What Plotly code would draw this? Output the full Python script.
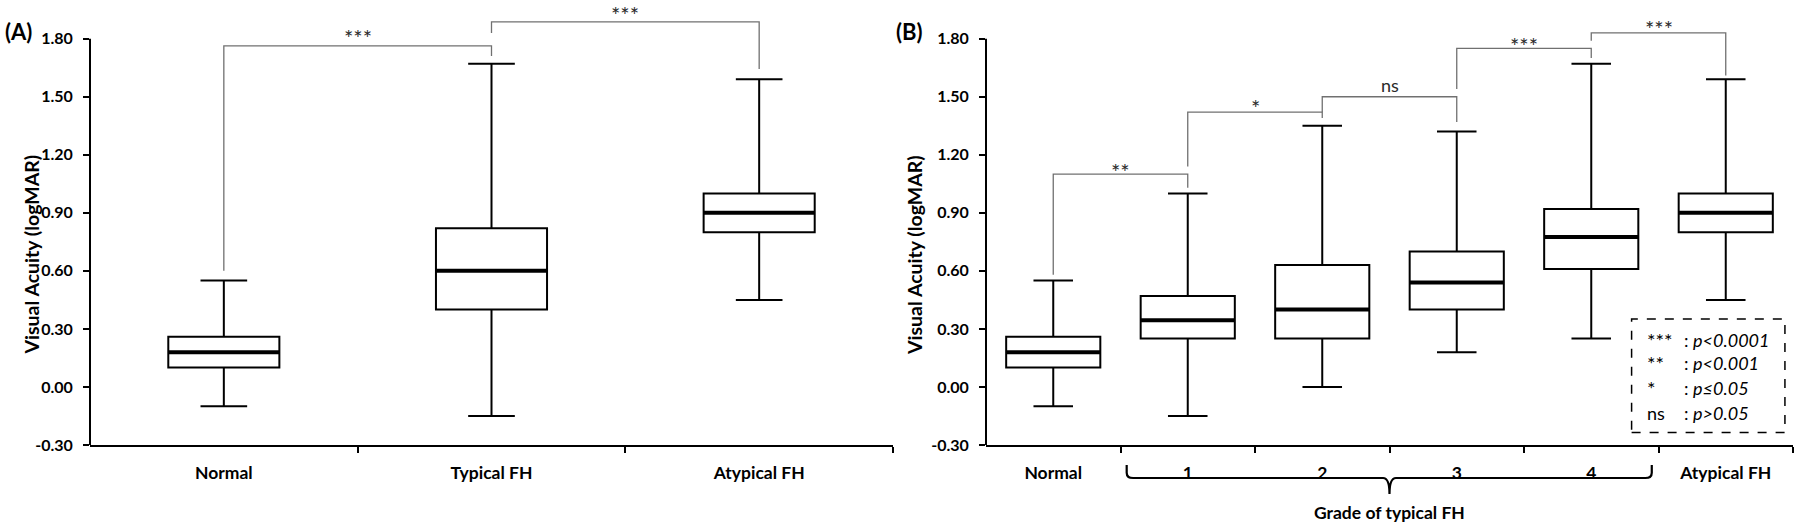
import plotly.graph_objects as go

# ---------------- data ----------------
cats_a = ["Normal", "Typical FH", "Atypical FH"]
low_a = [-0.10, -0.15, 0.45]
q1_a = [0.10, 0.40, 0.80]
med_a = [0.18, 0.60, 0.90]
q3_a = [0.26, 0.82, 1.00]
high_a = [0.55, 1.67, 1.59]

cats_b = ["Normal", "1", "2", "3", "4", "Atypical FH"]
low_b = [-0.10, -0.15, 0.00, 0.18, 0.25, 0.45]
q1_b = [0.10, 0.25, 0.25, 0.40, 0.61, 0.80]
med_b = [0.18, 0.345, 0.40, 0.54, 0.775, 0.90]
q3_b = [0.26, 0.47, 0.63, 0.70, 0.92, 1.00]
high_b = [0.55, 1.00, 1.35, 1.32, 1.67, 1.59]

yticks = [-0.30, 0.00, 0.30, 0.60, 0.90, 1.20, 1.50, 1.80]
ytick_text = ["-0.30", "0.00", "0.30", "0.60", "0.90", "1.20", "1.50", "1.80"]

# significance brackets: (from, to, left foot, bar, right foot, label, label y)
brackets_a = [
    (0, 1, 0.60, 1.763, 1.71, "***", 1.83),
    (1, 2, 1.83, 1.887, 1.644, "***", 1.95),
]
brackets_b = [
    (0, 1, 0.58, 1.10, 1.03, "**", 1.14),
    (1, 2, 1.14, 1.42, 1.39, "*", 1.47),
    (2, 3, 1.42, 1.50, 1.37, "ns", 1.56),
    (3, 4, 1.54, 1.75, 1.70, "***", 1.79),
    (4, 5, 1.79, 1.83, 1.61, "***", 1.88),
]

legend_syms = ["***", "**", "*", "ns"]
legend_text = ["p&lt;0.0001", "p&lt;0.001", "p≤0.05", "p&gt;0.05"]
legend_y = [0.243, 0.124, -0.005, -0.134]

# ---------------- style ----------------
FONT = "Lato"
W, H = 1800, 524
box_w_a, box_w_b = 0.415, 0.70
whisk = 0.42
YR = [-0.30, 2.00]
px_per_unit = 445 / (YR[1] - YR[0])

fig = go.Figure()


def add_panel(cats, low, q1, med, q3, high, bw, xa, ya):
    xs = list(range(len(cats)))
    fig.add_trace(go.Box(
        x=xs, q1=q1, median=med, q3=q3, lowerfence=low, upperfence=high,
        width=bw, whiskerwidth=whisk, boxpoints=False,
        fillcolor="white", line=dict(color="black", width=2),
        xaxis=xa, yaxis=ya, hoverinfo="skip", showlegend=False))
    # thick median lines
    for i, m in zip(xs, med):
        fig.add_shape(type="line", xref=xa, yref=ya,
                      x0=i - bw / 2, x1=i + bw / 2, y0=m, y1=m,
                      line=dict(color="black", width=4))
    # y axis line only up to top tick
    fig.add_shape(type="line", xref=xa + " domain", yref=ya,
                  x0=0, x1=0, y0=yticks[0], y1=yticks[-1],
                  line=dict(color="black", width=2))


def add_brackets(brs, xa, ya):
    for (i, j, yl, yt, yr, lab, ly) in brs:
        fig.add_shape(type="path", xref=xa, yref=ya,
                      path=f"M {i},{yl} L {i},{yt} L {j},{yt} L {j},{yr}",
                      line=dict(color="#707070", width=1.3))
        star = "*" in lab
        shift = (-5 / px_per_unit) if star else 0
        fig.add_annotation(x=(i + j) / 2, y=ly + shift, xref=xa, yref=ya,
                           text=lab, showarrow=False, yanchor="middle",
                           font=dict(family=FONT, size=22 if star else 18,
                                     color="#2a2a2a"))


add_panel(cats_a, low_a, q1_a, med_a, q3_a, high_a, box_w_a, "x", "y")
add_panel(cats_b, low_b, q1_b, med_b, q3_b, high_b, box_w_b, "x2", "y2")
add_brackets(brackets_a, "x", "y")
add_brackets(brackets_b, "x2", "y2")

xtickfont = dict(family=FONT, size=17.5, color="black", weight="bold")
ytickfont = dict(family=FONT, size=16, color="black", weight="bold")


def xaxis_cfg(cats, domain, anchor):
    n = len(cats)
    return dict(domain=domain, range=[-0.5, n - 0.5], anchor=anchor,
                showline=True, linecolor="black", linewidth=2,
                showgrid=False, zeroline=False,
                tickvals=list(range(n)), ticktext=cats, ticks="",
                ticklabelstandoff=11, tickfont=xtickfont,
                minor=dict(tickvals=[k + 0.5 for k in range(n)], ticks="outside",
                           ticklen=6, tickwidth=2, tickcolor="black"),
                fixedrange=True)


def yaxis_cfg(anchor):
    return dict(domain=[0, 1], range=YR, anchor=anchor, showline=False,
                showgrid=False, zeroline=False, tickvals=yticks,
                ticktext=ytick_text, ticks="outside", ticklen=6, tickwidth=2,
                tickcolor="black", ticklabelstandoff=7, tickfont=ytickfont,
                fixedrange=True)


fig.update_layout(
    width=W, height=H, margin=dict(l=0, r=0, t=0, b=79),
    paper_bgcolor="white", plot_bgcolor="white", showlegend=False,
    xaxis=xaxis_cfg(cats_a, [90 / W, 893 / W], "y"),
    xaxis2=xaxis_cfg(cats_b, [986 / W, 1793 / W], "y2"),
    yaxis=yaxis_cfg("x"),
    yaxis2=yaxis_cfg("x2"),
)

# panel labels and axis titles
for lab, xp in [("(A)", 3), ("(B)", 894)]:
    fig.add_annotation(text=f"<b>{lab}</b>", x=xp / W, y=1 - 31 / 445,
                       xref="paper", yref="paper", xanchor="left",
                       yanchor="middle", showarrow=False,
                       font=dict(family=FONT, size=22, color="black"))
for xp in [18, 915]:
    fig.add_annotation(text="<b>Visual Acuity (logMAR)</b>", x=xp / W,
                       y=1 - 255 / 445, xref="paper", yref="paper",
                       textangle=-90, showarrow=False,
                       font=dict(family=FONT, size=19.5, color="black"))

# legend box (panel B)
fig.add_shape(type="rect", xref="x2 domain", yref="y2", x0=0.800, x1=0.990,
              y0=-0.236, y1=0.351, line=dict(color="black", width=1.5, dash="dash"),
              fillcolor="rgba(0,0,0,0)")
for s, t, yy in zip(legend_syms, legend_text, legend_y):
    star = "*" in s
    fig.add_annotation(text=s, x=0.816, y=yy,
                       xref="x2 domain", yref="y2",
                       xanchor="left", yanchor="middle", showarrow=False,
                       font=dict(family=FONT, size=20 if star else 18, color="black"))
    fig.add_annotation(text=f": <i>{t}</i>", x=0.862, y=yy, xref="x2 domain",
                       yref="y2", xanchor="left", yanchor="middle",
                       showarrow=False, font=dict(family=FONT, size=18, color="black"))

# brace under grades 1-4
def fx(idx):
    return (idx + 0.5) / len(cats_b)

def fy(px):
    return 1 - px / 445

xl, xr, xm = fx(0.546), fx(4.45), fx(2.5)
ytop, ybar, ybot = fy(465), fy(478), fy(494)
c = 0.008
brace = (f"M {xl},{ytop} L {xl},{ybar + 0.012} Q {xl},{ybar} {xl + c},{ybar} "
         f"L {xm - c},{ybar} Q {xm},{ybar} {xm},{ybot} "
         f"Q {xm},{ybar} {xm + c},{ybar} L {xr - c},{ybar} "
         f"Q {xr},{ybar} {xr},{ybar + 0.012} L {xr},{ytop}")
fig.add_shape(type="path", xref="x2 domain", yref="paper", path=brace,
              line=dict(color="black", width=2.2))
fig.add_annotation(text="<b>Grade of typical FH</b>", x=2.5, y=fy(512),
                   xref="x2", yref="paper", yanchor="middle", showarrow=False,
                   font=dict(family=FONT, size=17.5, color="black"))

fig.write_html("out.html",
               config={"displayModeBar": False},
               post_script="document.body.style.margin='0';"
                           "document.body.style.padding='0';")
